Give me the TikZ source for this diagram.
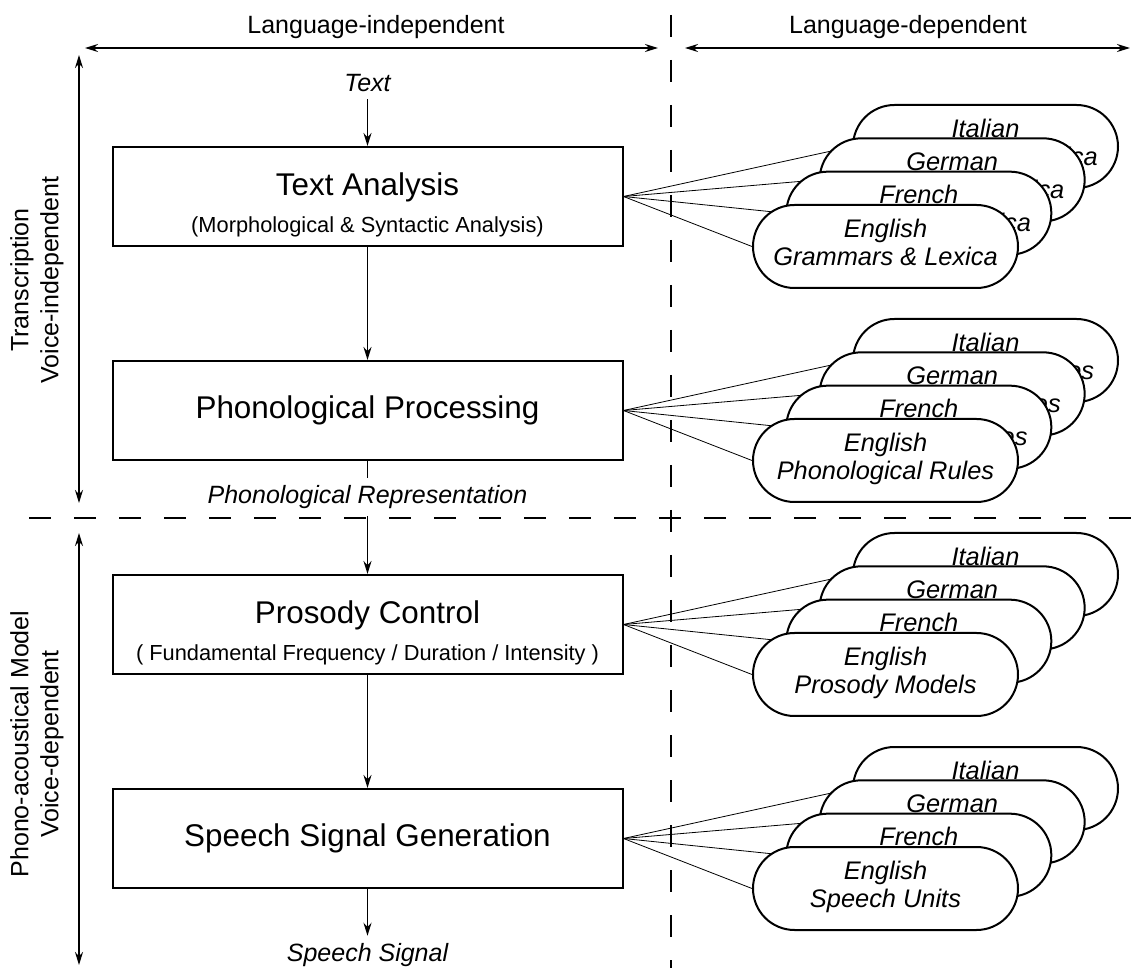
\documentclass[tikz,border=0pt]{standalone}
\usepackage{fontspec}
\setmainfont{Liberation Sans}
\usepackage{tikz}
\usetikzlibrary{arrows.meta,backgrounds,positioning}

\newcommand{\stagetitle}{\fontsize{15.7pt}{18.5pt}\selectfont}
\newcommand{\stagesub}{\fontsize{10.9pt}{18.5pt}\selectfont}

\begin{document}
\begin{tikzpicture}[x=0.5pt,y=-0.5pt,>={Stealth[length=6.5pt,width=4pt]},line width=0.9pt,node distance=107pt,
    stage/.style={draw,line width=1pt,rectangle,minimum width=255pt,minimum height=49.5pt,inner sep=0pt,align=center,font=\fontsize{10.9pt}{18.5pt}\selectfont},
    twoline/.style={text height=38.5pt},
    lang/.style={draw,line width=1pt,fill=white,rectangle,rounded corners=20.75pt,minimum width=132.5pt,minimum height=41.5pt,inner sep=0pt,align=center,text depth=4.6pt,node distance=23.57pt,font=\itshape\fontsize{12.7pt}{14pt}\selectfont},
    lbl/.style={font=\fontsize{12.5pt}{15pt}\selectfont},
    flow/.style={font=\itshape\fontsize{12.5pt}{15pt}\selectfont},
    divider/.style={dash pattern=on 11pt off 11.5pt}]
  \useasboundingbox (0,0) rectangle (1137,968);

  % header and side labels
  \node[lbl] (li) at (376,27) {Language-independent};
  \node[lbl] (ld) at (908,27) {Language-dependent};
  \coordinate (lil) at (85,48);  \coordinate (lir) at (658,48);
  \coordinate (ldl) at (685,48); \coordinate (ldr) at (1130,48);
  \draw[<->] (lil) -- (lir);
  \draw[<->] (ldl) -- (ldr);

  \node[lbl,rotate=90,align=center] (vi) at (37,280) {Transcription\\Voice-independent};
  \node[lbl,rotate=90,align=center] (vd) at (37,744) {Phono-acoustical Model\\Voice-dependent};
  \coordinate (vit) at (79,55);  \coordinate (vib) at (79,503);
  \coordinate (vdt) at (79,533); \coordinate (vdb) at (79,965);
  \draw[<->] (vit) -- (vib);
  \draw[<->] (vdt) -- (vdb);

  \draw[divider] (671,15) -- (671,968);
  \draw[divider] (29,518) -- (1137,518);

  % processing chain
  \node[stage,twoline] (ta) at (367.5,196.5) {{\stagetitle Text Analysis}\\{\stagesub (Morphological \& Syntactic Analysis)}};
  \node[stage] (pp) [below of=ta] {\stagetitle Phonological Processing};
  \node[stage,twoline] (pc) [below of=pp] {{\stagetitle Prosody Control}\\{\stagesub ( Fundamental Frequency / Duration / Intensity )}};
  \node[stage] (sg) [below of=pc] {\stagetitle Speech Signal Generation};

  \node[flow] (txt) at (367.5,83)  {Text};
  \node[flow] (rep) at (367.5,497) {Phonological Representation};
  \node[flow] (sig) at (367.5,955) {Speech Signal};

  \draw[->] (txt) -- (ta);
  \draw[->] (ta) -- (pp);
  \draw     (pp) -- (rep);
  \draw[->] (rep) -- (pc);
  \draw[->] (pc) -- (sg);
  \draw[->] (sg) -- (sig);

  % language resources, back to front
  \node[lang] (it1) at (985.5,146.5)  {Italian\\Grammars \& Lexica};
  \node[lang] (ge1) [below left of=it1] {German\\Grammars \& Lexica};
  \node[lang] (fr1) [below left of=ge1] {French\\Grammars \& Lexica};
  \node[lang] (en1) [below left of=fr1] {English\\Grammars \& Lexica};

  \node[lang] (it2) at (985.5,360.5)  {Italian\\Phonological Rules};
  \node[lang] (ge2) [below left of=it2] {German\\Phonological Rules};
  \node[lang] (fr2) [below left of=ge2] {French\\Phonological Rules};
  \node[lang] (en2) [below left of=fr2] {English\\Phonological Rules};

  \node[lang] (it3) at (985.5,574.5)  {Italian\\Prosody Models};
  \node[lang] (ge3) [below left of=it3] {German\\Prosody Models};
  \node[lang] (fr3) [below left of=ge3] {French\\Prosody Models};
  \node[lang] (en3) [below left of=fr3] {English\\Prosody Models};

  \node[lang] (it4) at (985.5,788.5)  {Italian\\Speech Units};
  \node[lang] (ge4) [below left of=it4] {German\\Speech Units};
  \node[lang] (fr4) [below left of=ge4] {French\\Speech Units};
  \node[lang] (en4) [below left of=fr4] {English\\Speech Units};

  \begin{pgfonlayer}{background}
    \draw (ta.east) edge (it1.west) edge (ge1.west) edge (fr1.west) edge (en1.west);
    \draw (pp.east) edge (it2.west) edge (ge2.west) edge (fr2.west) edge (en2.west);
    \draw (pc.east) edge (it3.west) edge (ge3.west) edge (fr3.west) edge (en3.west);
    \draw (sg.east) edge (it4.west) edge (ge4.west) edge (fr4.west) edge (en4.west);
  \end{pgfonlayer}
\end{tikzpicture}
\end{document}
